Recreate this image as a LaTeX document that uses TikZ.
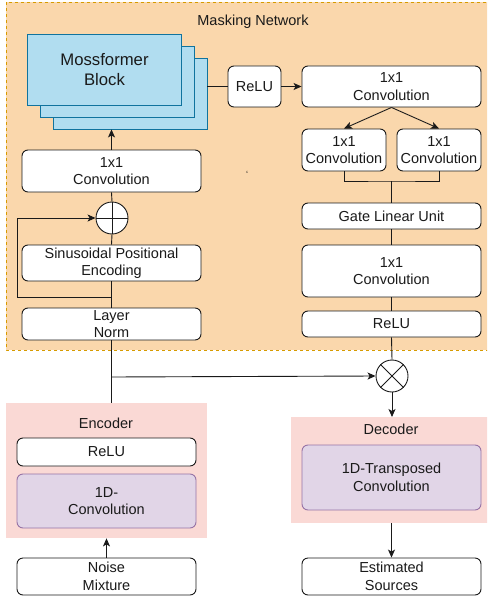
\documentclass[tikz,border=0pt]{standalone}
\usepackage{fontspec}
\setmainfont{Liberation Sans}
\usetikzlibrary{arrows.meta}
\definecolor{maskfill}{HTML}{FAD7AC}
\definecolor{maskline}{HTML}{D79B00}
\definecolor{codecfill}{HTML}{FAD9D5}
\definecolor{blockfill}{HTML}{B1DDF0}
\definecolor{blockline}{HTML}{10739E}
\definecolor{convfill}{HTML}{E1D5E7}
\definecolor{convline}{HTML}{9673A6}
\definecolor{ink}{HTML}{1A1A1A}
\tikzset{
  txt/.style={font=\fontsize{14.5}{17.5}\selectfont, text=ink},
  box/.style={txt, draw=ink, line width=0.9pt, rounded corners=6pt, fill=white,
    align=center, inner sep=0pt, minimum width=#1},
  box/.default=179pt,
  mossbox/.style={draw=blockline, fill=blockfill, line width=0.9pt, inner sep=0pt,
    minimum width=154pt, minimum height=71pt, align=center},
  purplebox/.style={box, draw=convline, fill=convfill},
  op/.style={circle, draw=ink, fill=white, line width=0.9pt, minimum size=32pt, inner sep=0pt},
  link/.style={draw=ink, line width=0.9pt},
  arr/.style={link, -{Stealth[length=8pt,width=7pt,inset=2pt]}},
  region/.style={inner sep=0pt, anchor=north west}
}
\begin{document}
\begin{tikzpicture}[x=1pt,y=-1pt]
\useasboundingbox (0,0) rectangle (487,599);
\clip (0,0) rectangle (487,599);

% background regions
\draw[maskline, fill=maskfill, line width=0.9pt, dash pattern=on 3pt off 3pt]
  (6,2) rectangle (492,350);
\node[txt] (masklbl) at (253,22) {Masking Network};
\node[region, fill=codecfill, minimum width=201pt, minimum height=135pt] (encoder) at (6,403) {};
\node[txt] (enclbl) at (106,423) {Encoder};
\node[region, fill=codecfill, minimum width=199pt, minimum height=106pt] (decoder) at (291,417) {};
\node[txt] (declbl) at (391,429) {Decoder};

% stacked Mossformer blocks
\node[mossbox] (mossA) at (130,93.5) {};
\node[mossbox] (mossB) at (117.5,81.5) {};
\node[mossbox, font=\fontsize{16.7}{20.5}\selectfont, text=ink] (mossC) at (104.5,69.5) {Mossformer\\Block};

% masking network, left column
\node[box, minimum height=42pt] (convL1) at (111.5,171) {1x1\\Convolution};
\node[op] (add) at (112,218) {};
\draw[link] (add.north) -- (add.south) (add.west) -- (add.east);
\node[box, minimum height=36pt] (spe) at (111.5,263) {Sinusoidal Positional\\Encoding};
\node[box, minimum height=32pt] (ln) at (111.5,324) {Layer\\Norm};

% masking network, right column
\node[box=53pt, minimum height=41pt] (reluT) at (254.5,86.5) {ReLU};
\node[box, minimum height=41pt] (convT) at (391.5,86.5) {1x1\\Convolution};
\node[box=84pt, minimum height=42pt] (convA) at (344,150) {1x1\\Convolution};
\node[box=84pt, minimum height=42pt] (convB) at (439,150) {1x1\\Convolution};
\node[box, minimum height=26pt] (glu) at (391.5,216) {Gate Linear Unit};
\node[box, minimum height=52pt] (convM) at (391.5,271) {1x1\\Convolution};
\node[box, minimum height=26pt] (reluR) at (391.5,324) {ReLU};
\node[op] (mul) at (392,376) {};
\draw[link] (mul.north west) -- (mul.south east) (mul.north east) -- (mul.south west);
\node[txt, font=\fontsize{9}{9}\selectfont] (tick) at (247,174) {`};

% encoder / decoder contents
\node[box, minimum height=28pt] (reluE) at (106.5,452) {ReLU};
\node[purplebox, minimum height=54pt] (conv1d) at (106.5,501) {1D-\\Convolution};
\node[purplebox, minimum height=65pt] (tconv) at (391.5,477.5) {1D-Transposed\\Convolution};
\node[box, minimum height=37pt] (noise) at (106.5,576.5) {Noise\\Mixture};
\node[box, minimum height=37pt] (est) at (391.5,576.5) {Estimated\\Sources};

% connectors
\draw[arr] (convL1.north) -- (convL1.north |- mossA.south);
\draw[link] (mossA.east |- reluT.west) -- (reluT.west);
\draw[arr] (reluT.east) -- (convT.west);
\draw[arr] (convT.south) -- (convA.north);
\draw[arr] (convT.south) -- (convB.north);
\coordinate (join) at (391.5,181);
\draw[link] (convA.south) |- (join) -| (convB.south);
\draw[link] (join) -- (glu.north);
\draw[link] (glu.south) -- (convM.north);
\draw[link] (convM.south) -- (reluR.north);
\draw[link] (reluR.south) -- (mul.north);
\draw[arr] (mul.south) -- (mul.south |- decoder.north);
\draw[arr] (decoder.south -| est.north) -- (est.north);

\draw[link] (convL1.south) -- (add.north);
\draw[link] (add.south) -- (spe.north);
\draw[link] (spe.south) -- (ln.north);
\coordinate (fb) at (111.5,297);
\coordinate (fbl) at (17,297);
\draw[arr] (fb) -- (fbl) |- (add.west);
\draw[link] (ln.south) -- (ln.south |- encoder.north);
\coordinate (branch) at (111.5,377);
\draw[arr] (branch) -- (mul.west);
\draw[arr] (noise.north) -- (noise.north |- encoder.south);
\end{tikzpicture}
\end{document}
